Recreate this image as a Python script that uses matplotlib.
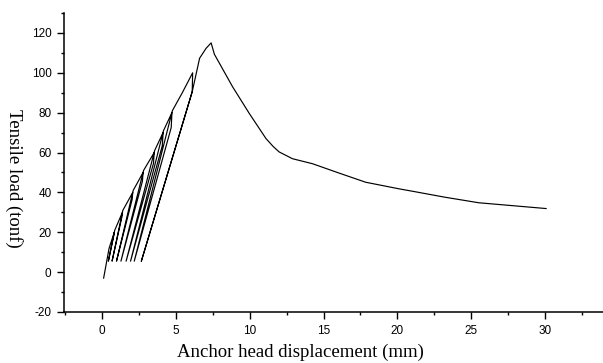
import matplotlib
matplotlib.use("Agg")
import matplotlib.pyplot as plt
from matplotlib.ticker import MultipleLocator

# Cyclic loading part (displacement mm, load tonf)
cyclic_disp = [0.13, 0.50, 0.85, 0.82, 0.45, 0.88, 1.40, 1.36, 0.70, 1.43,
               2.10, 2.06, 1.00, 2.13, 2.80, 2.75, 1.30, 2.83, 3.55, 3.50,
               1.65, 3.58, 4.15, 4.10, 1.95, 4.18, 4.75, 4.70, 2.20, 4.78,
               5.45, 6.15, 6.12, 2.68, 6.12]
cyclic_load = [-3.0, 12.0, 20.0, 18.5, 5.5, 21.0, 30.0, 27.5, 5.5, 31.0,
               40.0, 36.5, 5.5, 41.0, 50.0, 45.5, 5.5, 51.0, 60.0, 54.5,
               5.5, 61.0, 70.0, 63.5, 5.5, 71.0, 80.0, 72.5, 5.5, 81.0,
               90.0, 100.0, 90.5, 5.5, 90.5]

# Final loading to failure and post-peak softening
failure_disp = [6.12, 6.62, 7.06, 7.40, 7.62, 8.85, 9.98, 11.11, 11.60, 12.0,
                12.9, 14.25, 16.05, 17.85, 20.1, 21.0, 23.2, 25.5, 27.7, 30.05]
failure_load = [90.5, 107.3, 112.3, 115.0, 109.3, 93.0, 79.6, 67.0, 63.0, 60.3,
                56.9, 54.4, 49.7, 45.1, 41.8, 40.6, 37.6, 34.8, 33.4, 31.9]

x_ticks = [0, 5, 10, 15, 20, 25, 30]
y_ticks = [-20, 0, 20, 40, 60, 80, 100, 120]

plt.rcParams['axes.unicode_minus'] = False

fig = plt.figure(figsize=(6.03, 3.63), dpi=100)
ax = fig.add_axes([64/603, 1-312/363, 1-64/603, (312-13)/363])

ax.plot(cyclic_disp + failure_disp, cyclic_load + failure_load,
        color='black', lw=0.85, solid_joinstyle='round')

ax.set_xlim(-2.55, 33.9)
ax.set_ylim(-20, 130)
ax.set_xticks(x_ticks)
ax.set_yticks(y_ticks)
ax.xaxis.set_minor_locator(MultipleLocator(2.5))
ax.yaxis.set_minor_locator(MultipleLocator(10))

for s in ['top', 'right']:
    ax.spines[s].set_visible(False)
for s in ['left', 'bottom']:
    ax.spines[s].set_linewidth(1.1)

ax.tick_params(which='major', direction='out', length=5, width=1.0,
               labelsize=8.5, pad=4)
ax.tick_params(which='minor', direction='out', length=2.5, width=1.0)
for lab in ax.get_xticklabels() + ax.get_yticklabels():
    lab.set_fontfamily('Liberation Sans')

fig.text(300/603, 1-352/363, 'Anchor head displacement (mm)',
         family='Liberation Serif', fontsize=13.5, ha='center', va='center')
fig.text(14/603, 1-178/363, 'Tensile load (tonf)',
         family='Liberation Serif', fontsize=13.5, ha='center', va='center',
         rotation=270)

fig.savefig('out.png', dpi=100)
